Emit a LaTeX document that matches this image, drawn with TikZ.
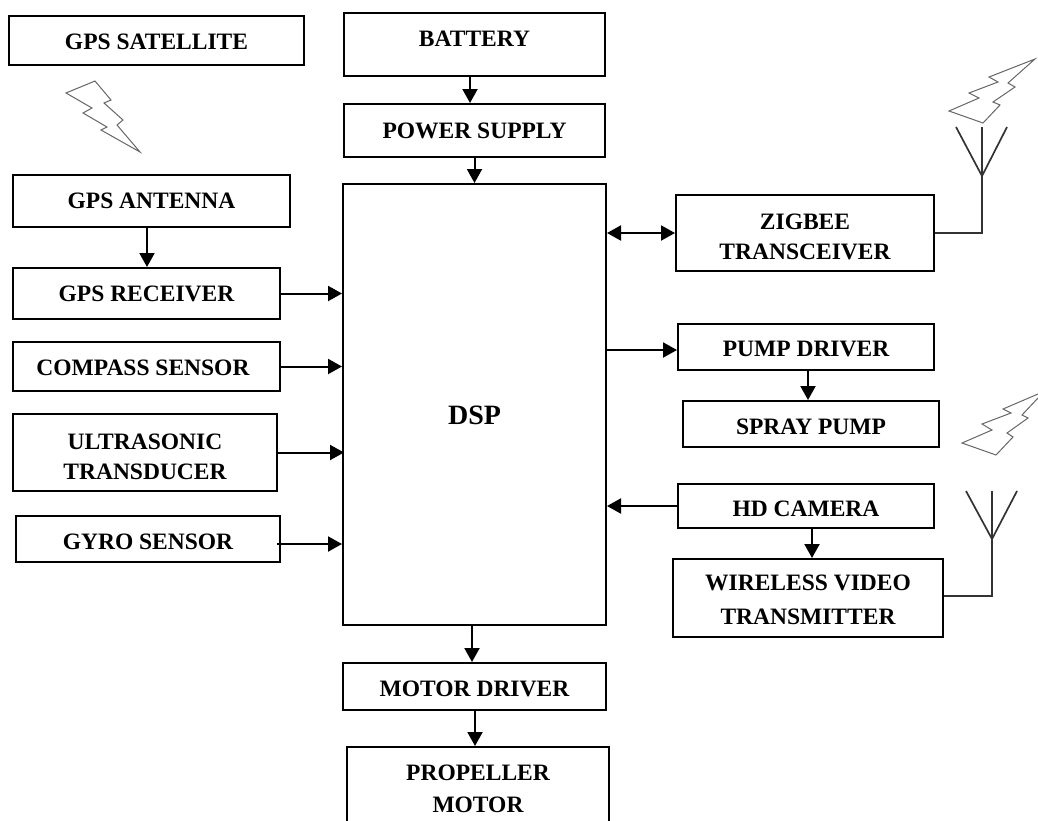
\documentclass[tikz,border=0pt]{standalone}
\usepackage{fontspec}
\setmainfont{Liberation Serif}
\usepackage{tikz}
\usetikzlibrary{arrows.meta}
\begin{document}
\begin{tikzpicture}[x=1pt,y=-1pt,line width=2pt,>={Triangle[length=14pt,width=15pt]},font=\fontsize{23.5}{30}\selectfont\bfseries,every node/.style={draw,align=center,inner sep=0pt},bolt/.style={draw=black!60,line width=1pt,line join=miter},aerial/.style={black!80,line width=1.7pt}]
\clip (0,0) rectangle (1038,820);
% left column
\node[minimum width=295pt,minimum height=49pt](sat) at (156.5,40.5){\rule{0pt}{19pt}GPS SATELLITE};
\node[minimum width=277pt,minimum height=52pt](ant) at (151.5,201){GPS ANTENNA};
\node[minimum width=267pt,minimum height=51pt](rec) at (146.5,293.5){GPS RECEIVER};
\node[minimum width=267pt,minimum height=49pt](com) at (146.5,366.5){\rule{0pt}{19pt}COMPASS SENSOR\hspace*{7pt}};
\node[minimum width=264pt,minimum height=77pt](ult) at (145,452.5){\rule{0pt}{24pt}ULTRASONIC\\TRANSDUCER};
\node[minimum width=264pt,minimum height=46pt](gyr) at (148,539){\rule{0pt}{22pt}GYRO SENSOR};
% middle column
\node[minimum width=261pt,minimum height=63pt,text depth=11pt](bat) at (474.5,44.5){BATTERY};
\node[minimum width=261pt,minimum height=53pt](pow) at (474.5,130.5){POWER SUPPLY};
\node[minimum width=263pt,minimum height=441pt,font=\fontsize{28}{34}\selectfont\bfseries](dsp) at (474.5,404.5){\rule{0pt}{40pt}DSP};
\node[minimum width=263pt,minimum height=47pt](mot) at (474.5,686.5){\rule{0pt}{21pt}MOTOR DRIVER};
\node[minimum width=262pt,minimum height=84pt](pro) at (478,789){PROPELLER\\[2pt]MOTOR};
% right column
\node[minimum width=258pt,minimum height=76pt](zig) at (805,233){\rule{0pt}{24pt}ZIGBEE\\TRANSCEIVER};
\node[minimum width=256pt,minimum height=46pt](pum) at (806,347){\rule{0pt}{20pt}PUMP DRIVER};
\node[minimum width=256pt,minimum height=46pt](spr) at (811,424){\rule{0pt}{22pt}SPRAY PUMP};
\node[minimum width=256pt,minimum height=44pt](hdc) at (806,506){\rule{0pt}{22pt}HD CAMERA};
\node[minimum width=270pt,minimum height=78pt](wir) at (808,598){\rule{0pt}{20pt}WIRELESS VIDEO\\[4pt]TRANSMITTER};
% antenna feed points
\coordinate (zigfeed) at (982,233);
\coordinate (wirfeed) at (992,596);
\draw[->]([xshift=-4.5pt]bat.south)--([xshift=-4.5pt]pow.north);
\draw[->](pow.south)--(dsp.north);
\draw[->]([xshift=-4.5pt]ant.south)--([xshift=.5pt]rec.north);
\draw[->](rec.east)--(rec.east-|dsp.west);
\draw[->](com.east)--(com.east-|dsp.west);
\draw[->](ult.east)--([xshift=2pt]ult.east-|dsp.west);
\draw[->]([xshift=-4pt,yshift=-5pt]gyr.east)--([yshift=-5pt]gyr.east-|dsp.west);
\draw[<->](zig.west-|dsp.east)--(zig.west);
\draw[->]([yshift=-3pt]pum.west-|dsp.east)--([yshift=-3pt]pum.west);
\draw[->]([xshift=2pt]pum.south)--([xshift=-3pt]spr.north);
\draw[->](hdc.west)--(hdc.west-|dsp.east);
\draw[->]([xshift=6pt]hdc.south)--([xshift=4pt]wir.north);
\draw[->]([xshift=-2.5pt]dsp.south)--([xshift=-2.5pt]mot.north);
\draw[->]([xshift=.5pt]mot.south)--([xshift=-3pt]pro.north);
\draw[aerial](zig.east)--(zigfeed)--(982,127);
\draw[aerial](956,127)--(982,176)--(1007,127);
\draw[aerial]([yshift=2pt]wir.east)--(wirfeed)--(992,491);
\draw[aerial](966,491)--(992,539)--(1017,491);
% lightning
\draw[bolt](66,93)--(95,81)--(111,100)--(104,103)--(123,120)--(117,125)--(140,152)--(101,130)--(107,127)--(83,113)--(92,108)--cycle;
\draw[bolt](1035,59)--(989,77)--(998,82)--(969,93)--(979,98)--(949,111)--(983,123)--(1000,105)--(993,102)--(1015,87)--(1008,83)--cycle;
\draw[bolt](1038,394)--(1003,409)--(1011,413)--(982,424)--(992,430)--(962,443)--(996,455)--(1013,437)--(1007,433)--(1028,418)--(1022,415)--(1038,398);
\end{tikzpicture}
\end{document}
